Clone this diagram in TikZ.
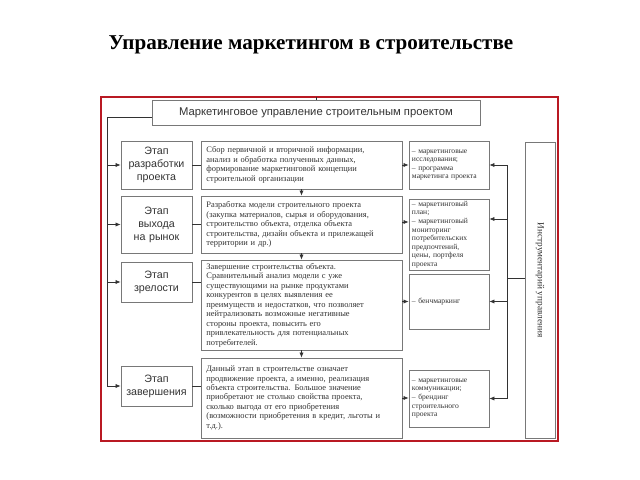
\documentclass[tikz,border=0pt]{standalone}
\usepackage{fontspec}
\setmainfont{Liberation Serif}
\newfontfamily\stagefont{Liberation Sans}
\usetikzlibrary{arrows.meta,positioning}
\definecolor{framered}{RGB}{185,25,35}
\definecolor{boxgray}{RGB}{120,120,120}
\definecolor{inkgray}{RGB}{50,50,50}
\tikzset{
  box/.style={draw=boxgray,line width=0.6pt,inner sep=2pt,text=inkgray},
  stagebox/.style={box,font=\stagefont\fontsize{7.6}{9.2}\selectfont,align=center,
    minimum width=1.775cm,text width=1.6cm},
  descbox/.style={box,font=\fontsize{6}{6.75}\selectfont,align=left,
    minimum width=5.025cm,text width=4.75cm},
  toolbox/.style={box,font=\fontsize{5.4}{6.1}\selectfont,align=left,
    minimum width=2cm,text width=1.85cm,inner ysep=1pt},
  link/.style={draw=inkgray,line width=0.5pt},
  arr/.style={link,-{Latex[length=3.5pt,width=3pt]}}
}

\begin{document}
\begin{tikzpicture}[x=0.025cm,y=-0.025cm]
		\useasboundingbox (0,0) rectangle (640,480);
		\node (title) at (311,45) {\fontsize{15}{18}\selectfont\bfseries Управление маркетингом в строительстве};
		% red frame
		\draw[framered,line width=2pt] (101,97) rectangle (558,441);
		\node[box,font=\stagefont\fontsize{8}{10}\selectfont,minimum width=8.2cm,minimum height=0.625cm]
			(top) at (316,112.5) {Маркетинговое управление строительным проектом};
		% stages
		\foreach \name/\y/\h/\txt in {%
			s1/165/1.2/{Этап\\разработки\\проекта},%
			s2/224.5/1.425/{Этап\\выхода\\на рынок},%
			s3/282/1.0/{Этап\\зрелости},%
			s4/386/1.0/{Этап\\завершения}%
			} {%
			\node[stagebox,minimum height=\h cm] (\name) at (156.5,\y) {\txt};
		}
		% descriptions
		\node[descbox,minimum height=1.2cm] (d1) at (301.5,165)
			{Сбор первичной и вторичной информации,\\
			анализ и обработка полученных данных,\\
			формирование маркетинговой концепции\\
			строительной организации};
		\node[descbox,minimum height=1.425cm] (d2) at (301.5,224.5)
			{Разработка модели строительного проекта\\
			(закупка материалов, сырья и оборудования,\\
			строительство объекта, отделка объекта\\
			строительства, дизайн объекта и прилежащей\\
			территории и др.)};
		\node[descbox,minimum height=2.25cm] (d3) at (301.5,305)
			{Завершение строительства объекта.\\
			Сравнительный анализ модели с уже\\
			существующими на рынке продуктами\\
			конкурентов в целях выявления ее\\
			преимуществ и недостатков, что позволяет\\
			нейтрализовать возможные негативные\\
			стороны проекта, повысить его\\
			привлекательность для потенциальных\\
			потребителей.};
		\node[descbox,minimum height=2.0cm] (d4) at (301.5,398)
			{Данный этап в строительстве означает\\
			продвижение проекта, а именно, реализация\\
			объекта строительства. Большое значение\\
			приобретают не столько свойства проекта,\\
			сколько выгода от его приобретения\\
			(возможности приобретения в кредит, льготы и\\
			т.д.).};
		% tools
		\node[toolbox,minimum height=1.2cm] (t1) at (449,165)
			{– маркетинговые\\ исследования;\\ – программа\\ маркетинга проекта};
		\node[toolbox,minimum height=1.775cm] (t2) at (449,234.5)
			{– маркетинговый\\ план;\\ – маркетинговый\\ мониторинг\\ потребительских\\
			предпочтений,\\ цены, портфеля\\ проекта};
		\node[toolbox,minimum height=1.375cm] (t3) at (449,301.5) {– бенчмаркинг};
		\node[toolbox,minimum height=1.425cm] (t4) at (449,398.5)
			{– маркетинговые\\ коммуникации;\\ – брендинг\\ строительного\\ проекта};
		\node[box,minimum width=0.75cm,minimum height=7.4cm] (tools) at (540,290) {};
		\node[text=inkgray,rotate=-90,font=\fontsize{6.6}{8}\selectfont] (toolstxt) at (540,280)
			{Инструментарий управления};
		% connectors
		\coordinate (lbus) at (107,117);
		\coordinate (rbus) at (507,278);
		\draw[link] (top.north) -- (top.north |- 0,97);
		\draw[link] (top.west |- lbus) -- (lbus) -- (lbus |- s4.west);
		\foreach \n in {1,2,3,4}{
			\draw[arr] (lbus |- s\n.west) -- (s\n.west);
			\draw[link] (s\n.east) -- (s\n.east -| d\n.west);
		}
		\draw[arr] (d1.south) -- (d2.north);
		\draw[arr] (d2.south) -- (d3.north);
		\draw[arr] (d3.south) -- (d4.north);
		\draw[arr] (d1.east) -- (d1.east -| t1.west);
		\draw[arr] (d2.east |- 0,222) -- (t2.west |- 0,222);
		\draw[arr] (d3.east |- t3.west) -- (t3.west);
		\draw[arr] (d4.east) -- (d4.east -| t4.west);
		\draw[link] (rbus) -- (rbus -| tools.west);
		\draw[link] (rbus |- t1.east) -- (rbus |- t4.east);
		\draw[arr] (rbus |- t1.east) -- (t1.east);
		\draw[arr] (rbus |- 0,219) -- (t2.east |- 0,219);
		\draw[arr] (rbus |- t3.east) -- (t3.east);
		\draw[arr] (rbus |- t4.east) -- (t4.east);
	\end{tikzpicture}
\end{document}
